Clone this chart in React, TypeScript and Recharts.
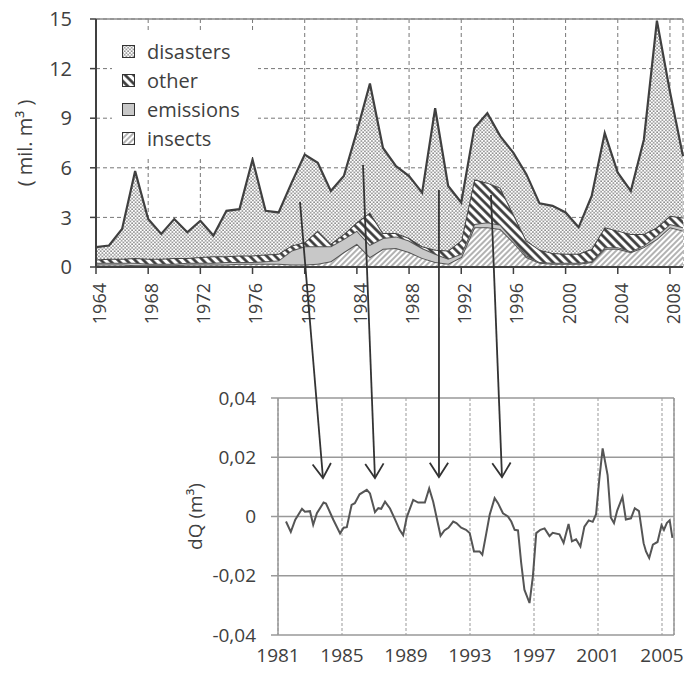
import React from "react";
import {
  AreaChart, Area, LineChart, Line, XAxis, YAxis, CartesianGrid,
  ReferenceLine, Legend,
} from "recharts";

// ---- top chart: damaged timber volume by cause (mil. m3) ----
const years = [
  1964, 1965, 1966, 1967, 1968, 1969, 1970, 1971, 1972, 1973, 1974, 1975,
  1976, 1977, 1978, 1979, 1980, 1981, 1982, 1983, 1984, 1985, 1986, 1987,
  1988, 1989, 1990, 1991, 1992, 1993, 1994, 1995, 1996, 1997, 1998, 1999,
  2000, 2001, 2002, 2003, 2004, 2005, 2006, 2007, 2008, 2009,
];
const insects = [
  0.15, 0.15, 0.15, 0.1, 0.1, 0.1, 0.1, 0.15, 0.15, 0.15, 0.15, 0.2,
  0.2, 0.2, 0.2, 0.15, 0.15, 0.2, 0.35, 0.9, 1.4, 0.6, 1.1, 1.15,
  0.9, 0.55, 0.3, 0.2, 0.6, 2.4, 2.4, 2.3, 1.5, 0.6, 0.25, 0.2,
  0.2, 0.2, 0.3, 1.1, 1.1, 0.9, 1.2, 1.7, 2.4, 2.2,
];
const emissions = [
  0.1, 0.1, 0.1, 0.15, 0.1, 0.1, 0.1, 0.1, 0.1, 0.1, 0.15, 0.1,
  0.1, 0.15, 0.2, 0.85, 1.1, 1.05, 0.9, 0.8, 0.8, 0.75, 0.65, 0.7,
  0.7, 0.6, 0.5, 0.3, 0.2, 0.2, 0.3, 0.25, 0.15, 0.1, 0.05, 0.05,
  0.05, 0.05, 0.05, 0.1, 0.1, 0.05, 0.1, 0.2, 0.2, 0.2,
];
const other = [
  0.2, 0.25, 0.25, 0.3, 0.3, 0.3, 0.35, 0.3, 0.35, 0.4, 0.35, 0.4,
  0.4, 0.4, 0.4, 0.3, 0.25, 0.95, 0.15, 0.3, 0.5, 1.95, 0.3, 0.2,
  0.15, 0.1, 0.25, 0.5, 0.8, 2.7, 2.4, 2.25, 1.55, 0.9, 0.75, 0.6,
  0.55, 0.55, 0.75, 1.2, 1.0, 1.05, 0.7, 0.5, 0.5, 0.6,
];
const disasters = [
  0.75, 0.8, 1.8, 5.25, 2.4, 1.5, 2.35, 1.55, 2.2, 1.25, 2.75, 2.8,
  5.8, 2.65, 2.5, 3.8, 5.3, 4.1, 3.2, 3.5, 5.5, 7.8, 5.15, 4.05,
  3.75, 3.25, 8.55, 3.9, 2.3, 3.1, 4.2, 3.1, 3.7, 4.0, 2.8, 2.85,
  2.5, 1.6, 3.2, 5.7, 3.5, 2.6, 5.7, 12.5, 7.5, 3.7,
];
const topXTicks = [1964, 1968, 1972, 1976, 1980, 1984, 1988, 1992, 1996, 2000, 2004, 2008];
const topYTicks = [0, 3, 6, 9, 12, 15];

const legendItems = [
  { key: "disasters", label: "disasters", fill: "url(#pDis)" },
  { key: "other", label: "other", fill: "url(#pOther)" },
  { key: "emissions", label: "emissions", fill: "#c8c8c8" },
  { key: "insects", label: "insects", fill: "url(#pIns)" },
];

// ---- bottom chart: dQ (m3) ----
const dqYears = [
  1981.5, 1981.8, 1982.08, 1982.5, 1982.68, 1983.0, 1983.2, 1983.43, 1983.85, 1984.0,
  1984.45, 1984.88, 1985.1, 1985.3, 1985.6, 1985.8, 1986.1, 1986.55, 1986.75, 1987.06,
  1987.27, 1987.45, 1987.69, 1988.0, 1988.3, 1988.6, 1988.82, 1989.05, 1989.45, 1989.76,
  1990.18, 1990.45, 1990.7, 1990.9, 1991.16, 1991.4, 1991.65, 1991.95, 1992.15, 1992.45,
  1992.75, 1992.98, 1993.25, 1993.6, 1993.77, 1994.02, 1994.23, 1994.54, 1994.75, 1995.06,
  1995.37, 1995.58, 1995.79, 1996.0, 1996.2, 1996.4, 1996.72, 1996.93, 1997.14, 1997.4,
  1997.66, 1997.97, 1998.17, 1998.59, 1998.85, 1999.16, 1999.37, 1999.63, 1999.9, 2000.15,
  2000.42, 2000.67, 2000.88, 2001.08, 2001.29, 2001.6, 2001.8, 2002.0, 2002.2, 2002.53,
  2002.74, 2003.06, 2003.3, 2003.56, 2003.85, 2004.0, 2004.2, 2004.43, 2004.72, 2004.97,
  2005.12, 2005.3, 2005.48, 2005.65,
];
const dqValues = [
  -0.0017, -0.0052, -0.0011, 0.0026, 0.0016, 0.0018, -0.0028, 0.0011, 0.0047, 0.0044,
  -0.001, -0.0057, -0.0038, -0.0036, 0.0039, 0.0045, 0.0075, 0.009, 0.0078, 0.0015,
  0.0028, 0.0026, 0.005, 0.0027, -0.0008, -0.0045, -0.0063, -0.0002, 0.0056, 0.0047,
  0.0047, 0.0095, 0.005, 0.0, -0.0065, -0.0047, -0.0038, -0.0017, -0.0022, -0.0038,
  -0.0045, -0.0056, -0.0118, -0.0118, -0.0129, -0.0056, 0.0006, 0.0062, 0.0045, 0.0011,
  0.0, -0.0017, -0.0045, -0.0047, -0.0157, -0.0247, -0.0292, -0.0202, -0.0056, -0.0045,
  -0.004, -0.0066, -0.0055, -0.006, -0.0089, -0.0025, -0.0084, -0.0077, -0.0101, -0.0034,
  -0.0013, -0.0018, 0.0008, 0.0125, 0.023, 0.014, -0.0003, -0.0022, 0.002, 0.0066,
  -0.001, -0.0006, 0.0028, 0.0018, -0.009, -0.0118, -0.014, -0.0095, -0.0086, -0.003,
  -0.0045, -0.0022, -0.0013, -0.0072,
];
const botXTicks = [1981, 1985, 1989, 1993, 1997, 2001, 2005];
const botYTicks = [-0.04, -0.02, 0, 0.02, 0.04];

// arrows: [year, value] in the top chart -> [year, value] in the bottom chart
const arrows = [
  { from: [1979.64, 3.93], to: [1983.81, 0.013] },
  { from: [1984.47, 6.17], to: [1987.06, 0.013] },
  { from: [1990.29, 4.66], to: [1991.06, 0.0133] },
  { from: [1994.28, 4.35], to: [1995.0, 0.0133] },
];

const FONT = "'Open Sans', 'DejaVu Sans', sans-serif";
const TXT = "#404040";

// layout
const W = 696;
const TOP_H = 330;
const TOP_M = { top: 19, right: 13, left: 0, bottom: 13 };
const TOP_YW = 96;
const TOP_XH = 50;
const BOT_Y0 = 370;
const BOT_H = 300;
const BOT_M = { top: 28, right: 22, left: 0, bottom: 5 };
const BOT_YW = 278;
const BOT_XH = 30;
const TOP_XDOM = [1964, 2009];
const BOT_XDOM = [1981, 2005.75];

const topRows = years.map((y, i) => ({
  year: y, insects: insects[i], emissions: emissions[i], other: other[i], disasters: disasters[i],
}));
const dqRows = dqYears.map((y, i) => ({ year: y, dq: dqValues[i] }));

// same linear maps the charts use, for the overlay arrows
const tL = TOP_M.left + TOP_YW, tR = W - TOP_M.right;
const tT = TOP_M.top, tB = TOP_H - TOP_M.bottom - TOP_XH;
const bL = BOT_M.left + BOT_YW, bR = W - BOT_M.right;
const bT = BOT_Y0 + BOT_M.top, bB = BOT_Y0 + BOT_H - BOT_M.bottom - BOT_XH;
const topX = (v: number) => tL + (v - TOP_XDOM[0]) / (TOP_XDOM[1] - TOP_XDOM[0]) * (tR - tL);
const topY = (v: number) => tT + (15 - v) / 15 * (tB - tT);
const botX = (v: number) => bL + (v - BOT_XDOM[0]) / (BOT_XDOM[1] - BOT_XDOM[0]) * (bR - bL);
const botY = (v: number) => bT + (0.04 - v) / 0.08 * (bB - bT);

const RotTick = (props: any) => {
  const { x, y, payload } = props;
  return (
    <g transform={`translate(${x},${y}) rotate(-90)`}>
      <text x={0} y={0} dy="0.55em" textAnchor="end" fill={TXT} fontSize={18} fontFamily={FONT}>
        {payload.value}
      </text>
    </g>
  );
};

const LegendBox = () => (
  <div style={{ background: "#fff", padding: "4px 0 4px 10px", fontFamily: FONT }}>
    {legendItems.map((it) => (
      <div key={it.key} style={{ display: "flex", alignItems: "center", height: 29 }}>
        <svg width={13} height={13} style={{ display: "block" }}>
          <rect x={0.5} y={0.5} width={12} height={12} fill={it.fill} stroke="#333" strokeWidth={1} />
        </svg>
        <span style={{ marginLeft: 12, fontSize: 20, color: TXT, lineHeight: "29px" }}>{it.label}</span>
      </div>
    ))}
  </div>
);

const fmtDq = (v: number) => (v === 0 ? "0" : v.toFixed(2).replace(".", ","));

export default function App() {
  return (
    <div style={{ position: "absolute", left: 0, top: 0, width: W, height: 675, background: "#fff", fontFamily: FONT }}>
      <div style={{ position: "absolute", left: 0, top: 0 }}>
        <AreaChart width={W} height={TOP_H} data={topRows} margin={TOP_M}>
          <defs>
            <pattern id="pDis" width="3.5" height="3.5" patternUnits="userSpaceOnUse">
              <rect width="3.5" height="3.5" fill="#fff" />
              <circle cx="0.9" cy="0.9" r="0.75" fill="#505050" />
              <circle cx="2.65" cy="2.65" r="0.75" fill="#505050" />
            </pattern>
            <pattern id="pOther" width="6" height="6" patternUnits="userSpaceOnUse" patternTransform="rotate(-45)">
              <rect width="6" height="6" fill="#fff" />
              <line x1="1.5" y1="0" x2="1.5" y2="6" stroke="#333" strokeWidth="2.6" />
            </pattern>
            <pattern id="pIns" width="4" height="4" patternUnits="userSpaceOnUse" patternTransform="rotate(45)">
              <rect width="4" height="4" fill="#fff" />
              <line x1="1" y1="0" x2="1" y2="4" stroke="#808080" strokeWidth="1.2" />
            </pattern>
          </defs>
          <CartesianGrid strokeDasharray="4 3" stroke="#777" strokeWidth={1} />
          <XAxis
            dataKey="year" type="number" domain={TOP_XDOM} ticks={topXTicks}
            height={TOP_XH} tick={<RotTick />} tickSize={7} tickMargin={9}
            axisLine={{ stroke: "#404040", strokeWidth: 2 }} tickLine={{ stroke: "#404040", strokeWidth: 1.5 }}
            interval={0}
          />
          <YAxis
            domain={[0, 15]} ticks={topYTicks} width={TOP_YW} interval={0}
            tick={{ fill: TXT, fontSize: 20, fontFamily: FONT }} tickSize={6} tickMargin={18}
            axisLine={{ stroke: "#404040", strokeWidth: 2 }} tickLine={{ stroke: "#404040", strokeWidth: 1.5 }}
            label={{
              content: () => (
                <text transform={`translate(24,${(tT + tB) / 2}) rotate(-90)`} textAnchor="middle"
                  dominantBaseline="central" fill={TXT} fontSize={20} fontFamily={FONT}>
                  ( mil. m³ )
                </text>
              ),
            }}
          />
          <ReferenceLine y={15} stroke="#8a8a8a" strokeWidth={1.5} ifOverflow="extendDomain" />
          <Area type="linear" dataKey="insects" stackId="s" stroke="#555" strokeWidth={2}
            fill="url(#pIns)" fillOpacity={1} isAnimationActive={false} activeDot={false} />
          <Area type="linear" dataKey="emissions" stackId="s" stroke="#555" strokeWidth={2}
            fill="#c8c8c8" fillOpacity={1} isAnimationActive={false} activeDot={false} />
          <Area type="linear" dataKey="other" stackId="s" stroke="#444" strokeWidth={2}
            fill="url(#pOther)" fillOpacity={1} isAnimationActive={false} activeDot={false} />
          <Area type="linear" dataKey="disasters" stackId="s" stroke="#404040" strokeWidth={2.2}
            fill="url(#pDis)" fillOpacity={1} isAnimationActive={false} activeDot={false} />
          <Legend layout="vertical" align="center" verticalAlign="middle" content={LegendBox}
            wrapperStyle={{ left: 112, top: 33, width: 146 }} />
        </AreaChart>
      </div>

      <div style={{ position: "absolute", left: 0, top: BOT_Y0 }}>
        <LineChart width={W} height={BOT_H} data={dqRows} margin={BOT_M}>
          <CartesianGrid vertical={false} stroke="#999" strokeWidth={1.5} />
          <CartesianGrid horizontal={false} stroke="#999" strokeWidth={1} strokeDasharray="3 2" />
          <XAxis
            dataKey="year" type="number" domain={BOT_XDOM} ticks={botXTicks} interval={0}
            height={BOT_XH} axisLine={false} tickLine={false} tickSize={6} tickMargin={8}
            tick={{ fill: TXT, fontSize: 19, fontFamily: FONT }}
          />
          <YAxis
            domain={[-0.04, 0.04]} ticks={botYTicks} width={BOT_YW} interval={0}
            tickFormatter={fmtDq} tick={{ fill: TXT, fontSize: 19, fontFamily: FONT }}
            tickSize={7} tickMargin={15}
            axisLine={{ stroke: "#999", strokeWidth: 1.5 }} tickLine={{ stroke: "#999", strokeWidth: 1.5 }}
            label={{
              content: () => (
                <text transform={`translate(195,${(bT + bB) / 2 - BOT_Y0}) rotate(-90)`} textAnchor="middle"
                  dominantBaseline="central" fill={TXT} fontSize={19} fontFamily={FONT}>
                  dQ (m³)
                </text>
              ),
            }}
          />
          <ReferenceLine x={BOT_XDOM[1]} stroke="#999" strokeWidth={1.5} />
          <Line type="linear" dataKey="dq" stroke="#555" strokeWidth={2} dot={false}
            activeDot={false} isAnimationActive={false} />
        </LineChart>
      </div>

      <svg width={W} height={675} style={{ position: "absolute", left: 0, top: 0, pointerEvents: "none" }}>
        {arrows.map((a, i) => {
          const x1 = topX(a.from[0]), y1 = topY(a.from[1]);
          const x2 = botX(a.to[0]), y2 = botY(a.to[1]);
          const ang = Math.atan2(y2 - y1, x2 - x1);
          const len = 17, spread = Math.PI / 5.5;
          const hx1 = x2 - len * Math.cos(ang - spread), hy1 = y2 - len * Math.sin(ang - spread);
          const hx2 = x2 - len * Math.cos(ang + spread), hy2 = y2 - len * Math.sin(ang + spread);
          return (
            <g key={i} stroke="#333" strokeWidth={1.8} fill="none">
              <line x1={x1} y1={y1} x2={x2} y2={y2} />
              <polyline points={`${hx1},${hy1} ${x2},${y2} ${hx2},${hy2}`} />
            </g>
          );
        })}
      </svg>
    </div>
  );
}
